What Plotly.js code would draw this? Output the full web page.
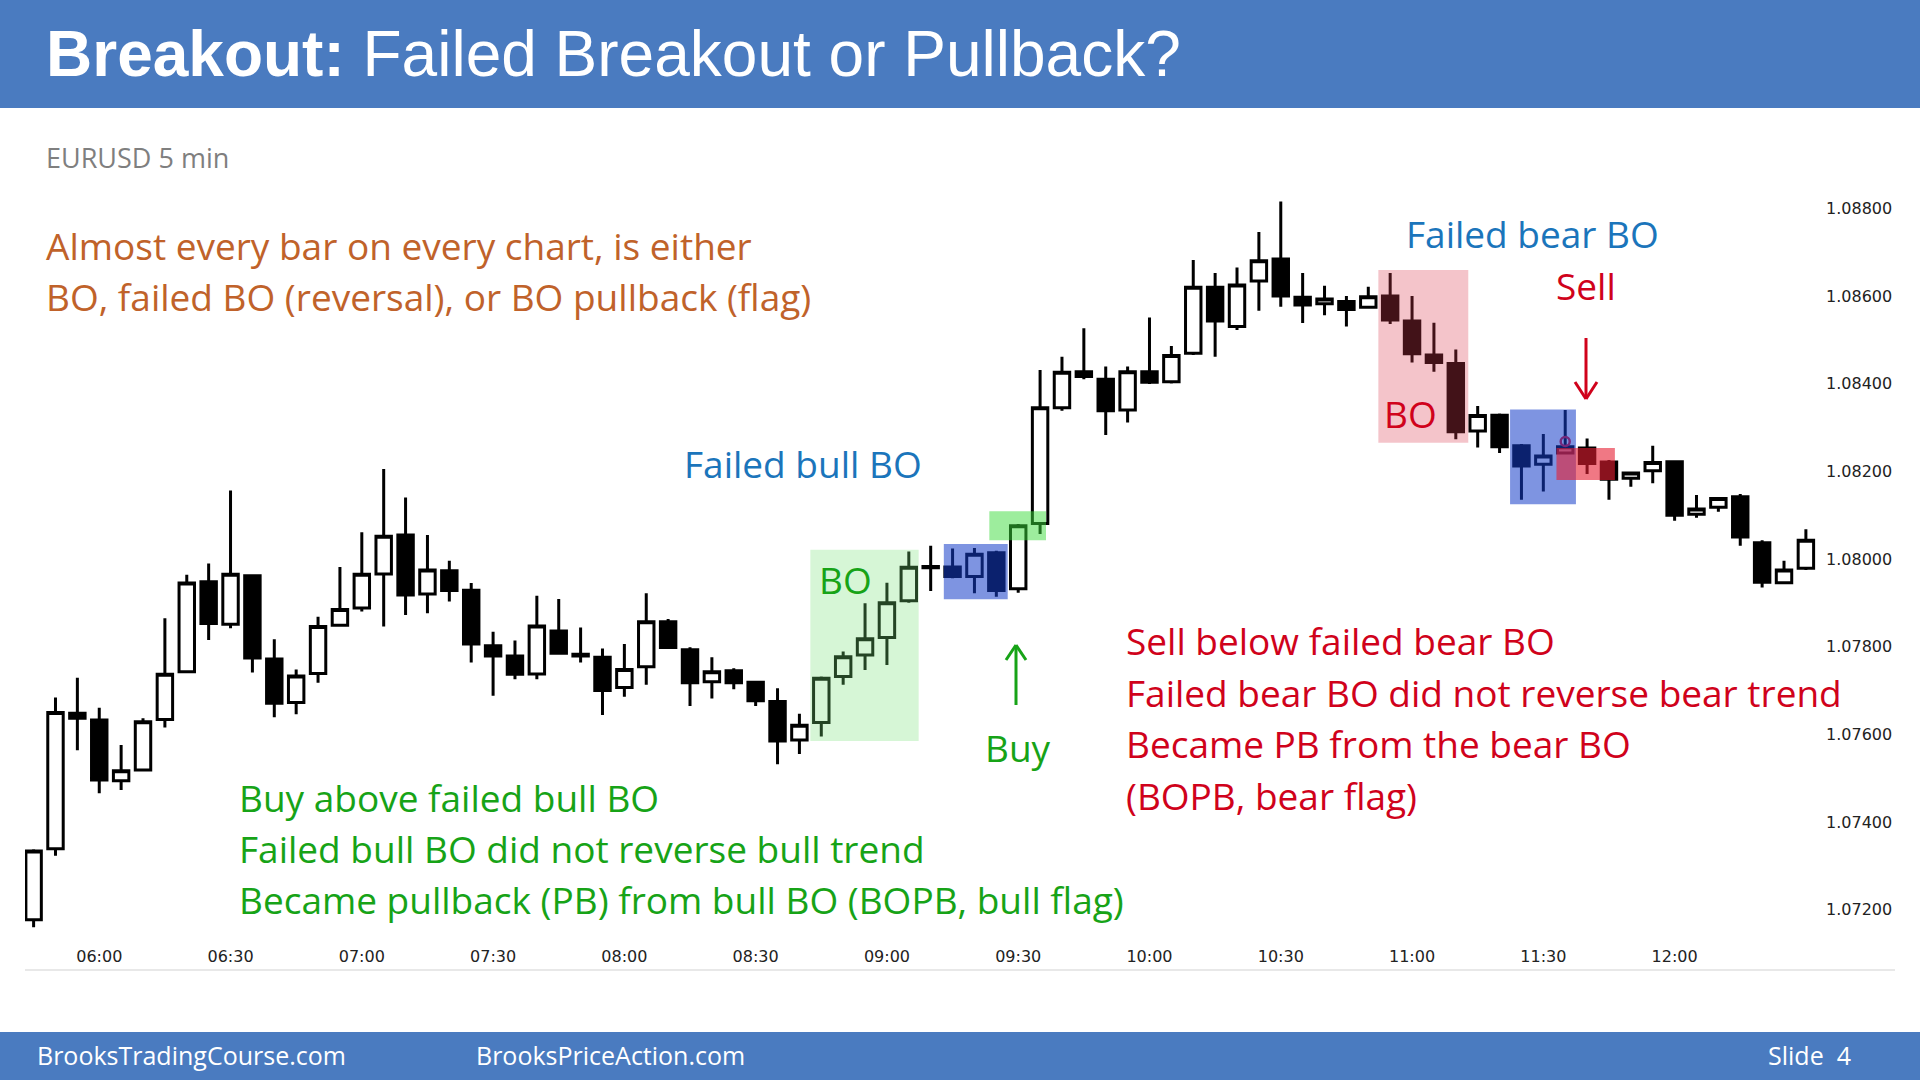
<!DOCTYPE html>
<html>
<head>
<meta charset="utf-8">
<script src="https://cdn.plot.ly/plotly-3.0.1.min.js"></script>
<style>
  html, body { margin: 0; padding: 0; background: #ffffff; }
  #chart { width: 1920px; height: 1080px; }
</style>
</head>
<body>
<div id="chart"></div>
<script>
// ---------------- DATA (EURUSD 5 min) ----------------
const times = [
  "05:45","05:50","05:55",
  "06:00","06:05","06:10","06:15","06:20","06:25","06:30","06:35","06:40","06:45","06:50","06:55",
  "07:00","07:05","07:10","07:15","07:20","07:25","07:30","07:35","07:40","07:45","07:50","07:55",
  "08:00","08:05","08:10","08:15","08:20","08:25","08:30","08:35","08:40","08:45","08:50","08:55",
  "09:00","09:05","09:10","09:15","09:20","09:25","09:30","09:35","09:40","09:45","09:50","09:55",
  "10:00","10:05","10:10","10:15","10:20","10:25","10:30","10:35","10:40","10:45","10:50","10:55",
  "11:00","11:05","11:10","11:15","11:20","11:25","11:30","11:35","11:40","11:45","11:50","11:55",
  "12:00","12:05","12:10","12:15","12:20","12:25","12:30"
];
const openP = [
  1.07177,1.07339,1.07648,
  1.07633,1.07494,1.07519,1.07634,1.07743,1.07948,1.07851,1.07962,1.07772,1.07673,1.07739,1.07849,
  1.07888,1.07966,1.08055,1.07920,1.07973,1.07929,1.07802,1.07779,1.07738,1.07836,1.07783,1.07776,
  1.07707,1.07754,1.07857,1.07793,1.07720,1.07745,1.07719,1.07675,1.07587,1.07627,1.07732,1.07781,
  1.07821,1.07905,1.07983,1.07982,1.07960,1.08014,1.07932,1.08081,1.08345,1.08427,1.08410,1.08340,
  1.08427,1.08404,1.08469,1.08620,1.08530,1.08634,1.08684,1.08597,1.08582,1.08587,1.08574,1.08600,
  1.08543,1.08465,1.08446,1.08292,1.08328,1.08258,1.08216,1.08242,1.08253,1.08221,1.08184,1.08201,
  1.08222,1.08102,1.08118,1.08142,1.08037,1.07946,1.07979
];
const highP = [
  1.07338,1.07684,1.07729,
  1.07661,1.07576,1.07637,1.07865,1.07964,1.07990,1.08156,1.07965,1.07817,1.07748,1.07868,1.07982,
  1.08061,1.08205,1.08140,1.08055,1.07996,1.07945,1.07834,1.07814,1.07916,1.07909,1.07844,1.07796,
  1.07806,1.07922,1.07863,1.07799,1.07776,1.07751,1.07722,1.07705,1.07647,1.07732,1.07789,1.07899,
  1.07946,1.08017,1.08030,1.08024,1.08025,1.08019,1.08080,1.08431,1.08461,1.08526,1.08439,1.08439,
  1.08551,1.08486,1.08682,1.08652,1.08665,1.08746,1.08815,1.08652,1.08623,1.08600,1.08621,1.08652,
  1.08600,1.08539,1.08478,1.08349,1.08332,1.08262,1.08285,1.08340,1.08275,1.08226,1.08198,1.08258,
  1.08224,1.08146,1.08140,1.08148,1.08043,1.07996,1.08068
];
const lowP = [
  1.07160,1.07323,1.07564,
  1.07466,1.07473,1.07517,1.07616,1.07742,1.07815,1.07842,1.07741,1.07639,1.07646,1.07718,1.07847,
  1.07880,1.07846,1.07872,1.07876,1.07903,1.07764,1.07688,1.07726,1.07726,1.07783,1.07764,1.07644,
  1.07686,1.07713,1.07795,1.07665,1.07682,1.07703,1.07665,1.07532,1.07555,1.07595,1.07713,1.07747,
  1.07758,1.07900,1.07927,1.07956,1.07922,1.07914,1.07923,1.08057,1.08338,1.08410,1.08283,1.08311,
  1.08399,1.08400,1.08465,1.08461,1.08522,1.08566,1.08575,1.08538,1.08556,1.08530,1.08572,1.08536,
  1.08448,1.08427,1.08273,1.08254,1.08242,1.08135,1.08154,1.08241,1.08194,1.08135,1.08165,1.08173,
  1.08087,1.08094,1.08108,1.08030,1.07935,1.07944,1.07975
];
const closeP = [
  1.07334,1.07650,1.07637,
  1.07496,1.07517,1.07629,1.07737,1.07945,1.07853,1.07965,1.07774,1.07671,1.07733,1.07846,1.07885,
  1.07965,1.08052,1.07918,1.07975,1.07928,1.07806,1.07779,1.07737,1.07847,1.07785,1.07779,1.07700,
  1.07748,1.07857,1.07798,1.07718,1.07743,1.07718,1.07677,1.07585,1.07621,1.07728,1.07777,1.07818,
  1.07900,1.07981,1.07980,1.07960,1.08011,1.07928,1.08076,1.08345,1.08426,1.08416,1.08338,1.08427,
  1.08403,1.08464,1.08620,1.08543,1.08625,1.08680,1.08600,1.08579,1.08593,1.08569,1.08598,1.08545,
  1.08468,1.08448,1.08290,1.08327,1.08256,1.08212,1.08235,1.08256,1.08218,1.08182,1.08196,1.08220,
  1.08100,1.08114,1.08138,1.08050,1.07947,1.07975,1.08043
];
const priceTicks = [1.072, 1.074, 1.076, 1.078, 1.080, 1.082, 1.084, 1.086, 1.088];
const timeTicks = ["06:00","06:30","07:00","07:30","08:00","08:30","09:00","09:30","10:00","10:30","11:00","11:30","12:00"];

// ---------------- LAYOUT HELPERS ----------------
const DAY = "2024-01-01 ";
const W = 1920, H = 1080;
const M = { l: 25, r: 102, t: 190, b: 135 };
const PW = W - M.l - M.r, PH = H - M.t - M.b;
const px = X => (X - M.l) / PW;          // page pixel -> paper x
const py = Y => (H - M.b - Y) / PH;      // page pixel -> paper y

const BODY = '"Open Sans", Lato, sans-serif';
const FS = 37;
const ORANGE = '#c0622a', BLUE = '#1b75bb', GREEN = '#17a317', RED = '#d0021b';
const BAND = '#4a7bc0';

const xs = times.map(t => DAY + t);

const candle = {
  type: 'candlestick',
  x: xs, open: openP, high: highP, low: lowP, close: closeP,
  increasing: { line: { color: '#000000', width: 3 }, fillcolor: '#ffffff' },
  decreasing: { line: { color: '#000000', width: 3 }, fillcolor: '#000000' },
  whiskerwidth: 0,
  hoverinfo: 'skip',
  showlegend: false
};

const marker = {
  type: 'scatter', mode: 'markers',
  x: [DAY + "11:35"], y: [1.08268],
  marker: { symbol: 'circle-open', size: 9, color: '#e8101f', line: { width: 2.5, color: '#e8101f' } },
  hoverinfo: 'skip', showlegend: false
};

function box(x0, x1, y0, y1, color) {
  return { type: 'rect', xref: 'x', yref: 'y', x0: DAY + x0, x1: DAY + x1, y0: y0, y1: y1,
           fillcolor: color, line: { width: 0 }, layer: 'above' };
}
function pline(X0, Y0, X1, Y1, color, w) {
  return { type: 'line', xref: 'paper', yref: 'paper', x0: px(X0), y0: py(Y0), x1: px(X1), y1: py(Y1),
           line: { color: color, width: w || 3 }, layer: 'above' };
}
function prect(X0, Y0, X1, Y1, color, layer) {
  return { type: 'rect', xref: 'paper', yref: 'paper', x0: px(X0), y0: py(Y1), x1: px(X1), y1: py(Y0),
           fillcolor: color, line: { width: 0 }, layer: layer || 'below' };
}
function txt(text, X, Y, color, size, anchor, family) {
  return { xref: 'paper', yref: 'paper', x: px(X), y: py(Y), text: text, showarrow: false,
           xanchor: anchor || 'left', yanchor: 'middle',
           font: { family: family || BODY, size: size, color: color } };
}

const shapes = [
  prect(0, 0, 1920, 108, BAND),
  prect(0, 1032, 1920, 1080, BAND),
  pline(25, 970, 1895, 970, '#e8e8e8', 2),
  // highlight boxes (data coordinates)
  box("08:42:30", "09:07:15", 1.07585, 1.08021, 'rgba(120,225,120,0.30)'),
  box("09:13:00", "09:27:36", 1.07908, 1.08034, 'rgba(20,60,200,0.55)'),
  box("09:23:24", "09:36:21", 1.08043, 1.08109, 'rgba(60,220,60,0.50)'),
  box("10:52:18", "11:12:51", 1.08265, 1.08659, 'rgba(220,60,80,0.30)'),
  box("11:22:24", "11:37:27", 1.08125, 1.08341, 'rgba(20,60,200,0.55)'),
  box("11:33:00", "11:46:21", 1.08180, 1.08253, 'rgba(230,30,50,0.60)'),
  // green up arrow (Buy)
  pline(1016, 705, 1016, 646, GREEN, 3),
  pline(1006, 660, 1016, 645, GREEN, 3),
  pline(1026, 660, 1016, 645, GREEN, 3),
  // red down arrow (Sell)
  pline(1586, 338, 1586, 398, RED, 3),
  pline(1575, 382, 1586, 399, RED, 3),
  pline(1597, 382, 1586, 399, RED, 3)
];

const annotations = [
  txt('<b>Breakout:</b> Failed Breakout or Pullback?', 44, 54, '#ffffff', 64, 'left', '"Liberation Sans", Arial, sans-serif'),
  txt('EURUSD 5 min', 44, 158, '#7f7f7f', 27),
  txt('Almost every bar on every chart, is either', 44, 245, ORANGE, FS),
  txt('BO, failed BO (reversal), or BO pullback (flag)', 44, 296, ORANGE, FS),
  txt('Failed bull BO', 803, 463, BLUE, FS, 'center'),
  txt('BO', 845, 579, GREEN, FS, 'center'),
  txt('Buy', 1018, 747, GREEN, FS, 'center'),
  txt('Failed bear BO', 1532, 233, BLUE, FS, 'center'),
  txt('Sell', 1586, 285, RED, FS, 'center'),
  txt('BO', 1410, 413, RED, FS, 'center'),
  txt('Buy above failed bull BO', 237, 797, GREEN, FS),
  txt('Failed bull BO did not reverse bull trend', 237, 848, GREEN, FS),
  txt('Became pullback (PB) from bull BO (BOPB, bull flag)', 237, 899, GREEN, FS),
  txt('Sell below failed bear BO', 1124, 640, RED, FS),
  txt('Failed bear BO did not reverse bear trend', 1124, 692, RED, FS),
  txt('Became PB from the bear BO', 1124, 743, RED, FS),
  txt('(BOPB, bear flag)', 1124, 795, RED, FS),
  txt('BrooksTradingCourse.com', 35, 1055, '#ffffff', 25),
  txt('BrooksPriceAction.com', 474, 1055, '#ffffff', 25),
  txt('Slide  4', 1766, 1055, '#ffffff', 25)
];

const layout = {
  width: W, height: H,
  margin: M,
  paper_bgcolor: '#ffffff', plot_bgcolor: '#ffffff',
  boxgap: 0.16, boxgroupgap: 0.16,
  showlegend: false,
  hovermode: false,
  xaxis: {
    type: 'date',
    range: [DAY + "05:43:02", DAY + "12:32:46"],
    tickmode: 'array',
    tickvals: timeTicks.map(t => DAY + t),
    ticktext: timeTicks,
    showgrid: false, zeroline: false, showline: false, ticks: '',
    rangeslider: { visible: false },
    tickfont: { family: '"DejaVu Sans", sans-serif', size: 16, color: '#222222' },
    fixedrange: true
  },
  yaxis: {
    side: 'right',
    range: [1.071197, 1.088415],
    tickvals: priceTicks, tickformat: '.5f',
    showgrid: false, zeroline: false, showline: false, ticks: '',
    ticklabelstandoff: 7,
    tickfont: { family: '"DejaVu Sans", sans-serif', size: 16, color: '#222222' },
    fixedrange: true
  },
  shapes: shapes,
  annotations: annotations
};

Plotly.newPlot('chart', [candle, marker], layout, { displayModeBar: false, staticPlot: true });
</script>
</body>
</html>
